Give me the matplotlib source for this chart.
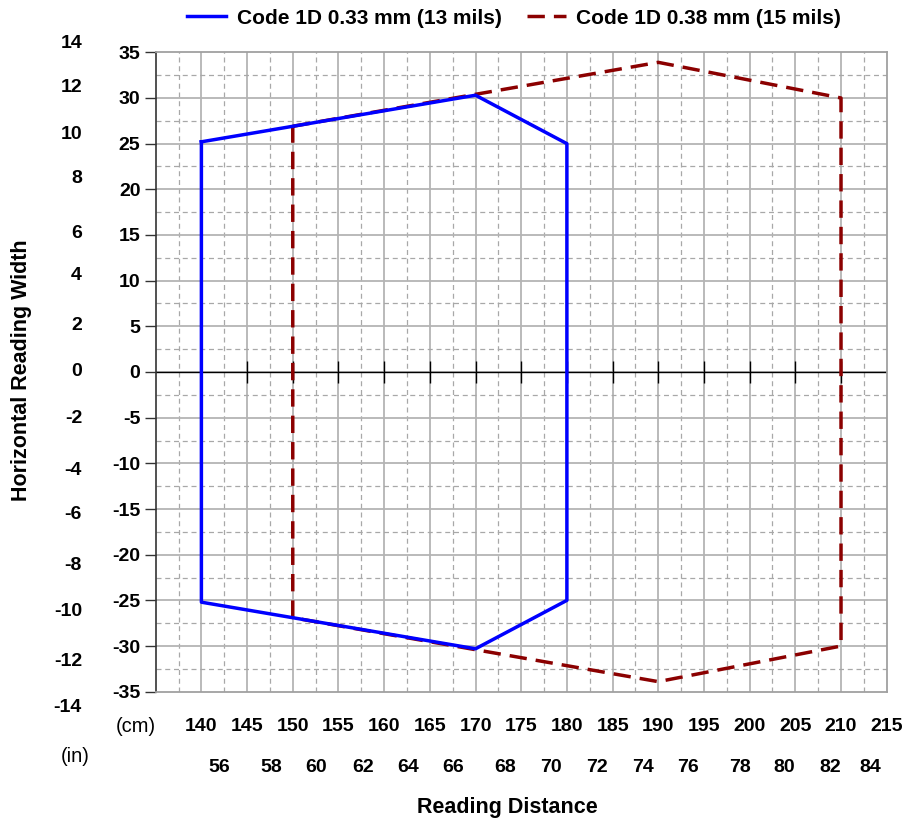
import matplotlib
matplotlib.use("Agg")
import matplotlib.pyplot as plt
import matplotlib.transforms as mtransforms
import numpy as np

plt.rcParams['font.family'] = ['Liberation Sans', 'DejaVu Sans']

# ---- data ----
code13_x = [140, 170, 180, 180, 170, 140, 140]
code13_y = [25.2, 30.3, 25.0, -25.0, -30.3, -25.2, 25.2]
code15_x = [150, 170, 190, 210, 210, 190, 170, 150, 150]
code15_y = [26.9, 30.4, 33.9, 30.0, -30.0, -33.9, -30.4, -26.9, 26.9]
series_labels = ["Code 1D 0.33 mm (13 mils)", "Code 1D 0.38 mm (15 mils)"]

cm_xticks = [140, 145, 150, 155, 160, 165, 170, 175, 180, 185, 190, 195, 200, 205, 210, 215]
cm_yticks = [35, 30, 25, 20, 15, 10, 5, 0, -5, -10, -15, -20, -25, -30, -35]
in_xlabels = ["56", "58", "60", "62", "64", "66", "68", "70", "72", "74", "76", "78", "80", "82", "84"]
in_xpos = [142.0, 147.6, 152.6, 157.7, 162.6, 167.5, 173.2, 178.2, 183.3, 188.3, 193.3, 198.9, 203.8, 208.8, 213.2]
in_ylabels = ["14", "12", "10", "8", "6", "4", "2", "0", "-2", "-4", "-6", "-8", "-10", "-12", "-14"]
in_ypos = [36.0, 31.2, 26.0, 21.2, 15.2, 10.6, 5.1, 0.0, -5.1, -10.8, -15.6, -21.2, -26.2, -31.7, -36.7]

W, H = 917, 823
fig = plt.figure(figsize=(W / 100, H / 100), dpi=100)
L, R, T, B = 155.7, 886.7, 52.3, 691.7
ax = fig.add_axes([L / W, 1 - B / H, (R - L) / W, (B - T) / H])

ax.set_xlim(135, 215)
ax.set_ylim(-35, 35)

# grid
for x in np.arange(140, 215, 5):
    ax.axvline(x, color='#b4b4b4', lw=1.3, zorder=1)
for x in np.arange(137.5, 215, 5):
    ax.axvline(x, color='#a8a8a8', lw=0.9, ls=(0, (4, 3)), zorder=1)
for y in np.arange(-30, 35, 5):
    ax.axhline(y, color='#b4b4b4', lw=1.3, zorder=1)
for y in np.arange(-32.5, 35, 5):
    ax.axhline(y, color='#a8a8a8', lw=0.9, ls=(0, (4, 3)), zorder=1)

# zero line with ticks
ax.axhline(0, color='black', lw=1.0, zorder=2)
ax.vlines(np.arange(140, 215, 5), -1.25, 1.25, color='black', lw=1.0, zorder=2)

# series
l1, = ax.plot(code13_x, code13_y, color='#0000ff', lw=2.5, zorder=4,
              label=series_labels[0])
l2, = ax.plot(code15_x, code15_y, color='#8b0000', lw=2.5, ls=(0, (5, 2.6)), zorder=3,
              label=series_labels[1])

# spines
for s in ['top', 'right', 'bottom']:
    ax.spines[s].set_color('#a0a0a0')
    ax.spines[s].set_linewidth(1.3)
ax.spines['left'].set_color('#333333')
ax.spines['left'].set_linewidth(1.2)

TICK_FS = 14
# ticks
ax.set_yticks(cm_yticks)
ax.set_yticklabels([str(v) for v in cm_yticks], fontsize=TICK_FS, fontweight='bold')
ax.tick_params(axis='y', length=8, width=1.0, color='#333333', pad=3)
ax.set_xticks(cm_xticks)
ax.set_xticklabels([str(v) for v in cm_xticks], fontsize=TICK_FS, fontweight='bold')
ax.tick_params(axis='x', length=0, pad=19)

# inch labels x
tx = mtransforms.blended_transform_factory(ax.transData, fig.transFigure)
for lab, xp in zip(in_xlabels, in_xpos):
    ax.text(xp, 1 - 767 / H, lab, transform=tx, ha='center', va='center',
            fontsize=TICK_FS, fontweight='bold')
# inch labels y
ty = mtransforms.blended_transform_factory(fig.transFigure, ax.transData)
for lab, yp in zip(in_ylabels, in_ypos):
    ax.text(82 / W, yp, lab, transform=ty, ha='right', va='center',
            fontsize=TICK_FS, fontweight='bold')

fig.text(136 / W, 1 - 727 / H, "(cm)", ha='center', va='center', fontsize=14.5)
fig.text(75 / W, 1 - 757 / H, "(in)", ha='center', va='center', fontsize=14.5)

fig.text(22 / W, 1 - 370 / H, "Horizontal Reading Width", rotation=90,
         ha='center', va='center', fontsize=15.5, fontweight='bold')
fig.text(507 / W, 1 - 808 / H, "Reading Distance", ha='center', va='center',
         fontsize=15.5, fontweight='bold')

fig.legend(handles=[l1, l2], loc='center', bbox_to_anchor=(514 / W, 1 - 18 / H),
           ncol=2, frameon=False, handlelength=1.9, columnspacing=1.2,
           handletextpad=0.5, prop={'size': 15, 'weight': 'bold'})

fig.savefig("out.png", dpi=100)
